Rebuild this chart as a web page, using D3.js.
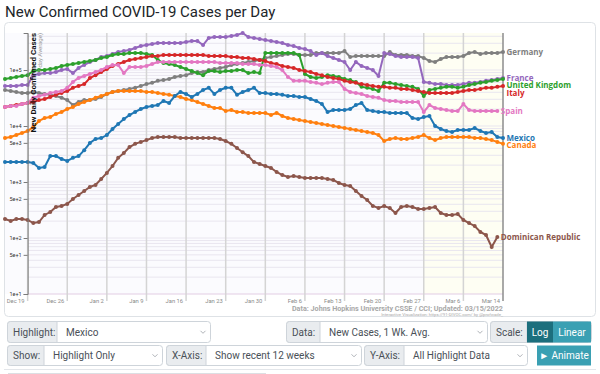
<!DOCTYPE html>
<html>
<head>
<meta charset="utf-8">
<script src="https://cdn.jsdelivr.net/npm/d3@7"></script>
<style>
body { margin: 0; background: #fff; }
svg text { font-family: Roboto, "Open Sans", sans-serif; }
</style>
</head>
<body>
<svg id="chart" width="600" height="374"></svg>
<script>
// x tick labels, one per week (index of day in the series)
var tickLabels = ["Dec 19", "Dec 26", "Jan 2", "Jan 9", "Jan 16", "Jan 23", "Jan 30", "Feb 6", "Feb 13", "Feb 20", "Feb 27", "Mar 6", "Mar 14"];
var tickDays = [4, 11, 18, 25, 32, 39, 46, 53, 60, 67, 74, 81, 88];
var yTicks = [10, 50, 100, 500, 1000, 5000, 10000, 100000];

var names = ["Germany", "France", "United Kingdom", "Italy", "Spain", "Canada", "Mexico", "Dominican Republic"];
var colors = ["#7f7f7f", "#9467bd", "#2ca02c", "#d62728", "#e377c2", "#ff7f0e", "#1f77b4", "#8c564b"];

// new cases, 7-day average
var germany = [44000,42000,40500,39000,39000,40500,39000,37300,36000,34300,
	32000,29000,23700,26800,29000,29000,30300,33000,37300,40500,
	42000,44000,46000,48000,52000,56000,59000,64000,66000,69000,
	75000,78000,81000,88000,92000,92000,100000,104000,109000,113000,
	123000,128000,133000,139000,145000,151000,164000,171000,178000,185000,
	193000,193000,185000,185000,185000,201000,201000,201000,201000,201000,
	218000,171000,178000,178000,178000,178000,178000,178000,209000,185000,
	185000,185000,178000,178000,164000,145000,139000,157000,171000,171000,
	171000,178000,201000,209000,193000,201000,201000,201000,209000];
var france = [52000,52000,52000,54000,54000,81000,85000,88000,88000,92000,
	100000,104000,88000,109000,123000,139000,151000,171000,178000,193000,
	209000,218000,228000,247000,268000,279000,291000,303000,303000,303000,
	303000,303000,316000,330000,330000,279000,373000,388000,388000,388000,
	405000,422000,458000,388000,373000,358000,343000,330000,316000,303000,
	279000,268000,247000,237000,218000,185000,201000,178000,164000,151000,
	139000,100000,139000,118000,109000,100000,78000,201000,193000,178000,
	171000,171000,171000,164000,61000,59000,56000,56000,54000,54000,
	54000,56000,59000,59000,61000,64000,66000,69000,72000];
var uk = [69000,72000,75000,78000,81000,96000,100000,100000,104000,109000,
	118000,123000,128000,133000,139000,145000,151000,164000,171000,185000,
	193000,193000,201000,201000,201000,193000,185000,151000,133000,128000,
	123000,113000,104000,96000,88000,81000,96000,96000,92000,96000,
	96000,100000,100000,88000,92000,88000,201000,201000,201000,201000,
	201000,201000,185000,85000,75000,72000,75000,81000,78000,75000,
	69000,66000,61000,50000,48000,46000,42000,59000,59000,56000,
	54000,52000,50000,46000,34300,44000,46000,48000,50000,50000,
	48000,50000,54000,56000,59000,61000,64000,66000,69000];
var italy = [21800,22800,23700,24700,25800,26800,29000,30300,33000,36000,
	39000,42000,48000,52000,56000,72000,81000,92000,104000,118000,
	128000,139000,151000,157000,164000,171000,178000,178000,185000,185000,
	185000,185000,185000,185000,185000,185000,178000,178000,178000,178000,
	171000,171000,164000,164000,157000,151000,145000,133000,128000,118000,
	113000,109000,100000,96000,92000,85000,81000,75000,72000,69000,
	64000,61000,59000,56000,54000,52000,50000,50000,48000,48000,
	46000,46000,44000,42000,40500,39000,39000,39000,39000,39000,
	40500,42000,44000,44000,46000,48000,48000,50000,52000];
var spain = [21800,22800,22800,24700,25800,32000,34300,36000,39000,40500,
	42000,48000,61000,72000,78000,85000,92000,100000,113000,123000,
	123000,88000,113000,113000,113000,118000,128000,139000,139000,139000,
	139000,139000,139000,139000,139000,139000,139000,139000,133000,133000,
	133000,133000,128000,128000,128000,123000,123000,118000,113000,100000,
	75000,64000,64000,64000,61000,59000,56000,59000,61000,61000,
	46000,40500,39000,37300,34300,33000,32000,29000,28000,28000,
	26800,26800,26800,26800,17800,23700,21000,20100,19300,18500,
	18500,24700,19300,18500,18500,18500,18500,18500];
var canada = [6100,6370,6900,7500,8140,9600,12300,13900,14500,16400,
	17800,20100,21800,24700,26800,29000,32000,34300,37300,40500,
	42000,42000,42000,42000,42000,40500,40500,39000,37300,36000,
	34300,33000,30300,29000,26800,24700,22800,21000,21000,18500,
	19300,17800,17800,17100,17100,17100,17100,15700,17100,15100,
	13900,13300,12800,12300,11800,11300,10900,10400,10000,9600,
	9200,8850,8500,8140,7800,7500,6900,5390,5860,6100,
	5860,5860,6100,6370,6900,6100,5600,6100,6370,6370,
	6370,6370,6370,6100,6100,5860,5600,5200,4800];
var mexico = [2270,2270,2270,2270,2270,2180,1780,1850,2900,2900,
	2580,2380,2700,2900,3700,4970,5860,6100,6900,8840,
	10900,13300,15700,17800,20100,21800,22800,23700,28000,25800,
	34300,40500,37300,33000,37300,44000,48000,37300,44000,48000,
	48000,36000,40500,44000,48000,39000,39000,37300,37300,36000,
	34300,34300,33000,33000,30300,28000,24700,17800,19300,19300,
	19300,20100,23700,25800,19300,18500,17800,17800,17100,17100,
	17100,17100,13900,13300,14500,15100,10000,8840,8140,7800,
	8500,8500,8500,9200,8140,7500,7800,6370,6100];
var dominican = [218,201,218,218,210,185,193,258,291,358,
	373,405,497,586,690,815,884,1130,1450,1930,
	2700,3300,4200,4800,5200,5600,6100,6370,6370,6370,
	6370,6100,6100,6100,6100,6100,6100,6100,5860,5390,
	4800,4050,3400,2900,2270,2100,1930,1780,1510,1330,
	1230,1280,1230,1180,1180,1180,1180,1130,1090,960,
	884,850,690,562,477,373,343,373,343,279,
	358,373,358,330,330,343,358,279,258,258,
	268,210,185,164,128,113,69,104];

var series = [germany, france, uk, italy, spain, canada, mexico, dominican];

var svg = d3.select("#chart");

var x = d3.scaleLinear().domain([0, 88]).range([5, 503]);
var yMax = d3.max(series, function(s) { return d3.max(s); });
var y = d3.scaleLog().domain([10, yMax]).range([294, 33]);

svg.append("text")
	.attr("x", 5)
	.attr("y", 17)
	.attr("font-size", 15)
	.attr("fill", "#212529")
	.text("New Confirmed COVID-19 Cases per Day");

// card
svg.append("rect")
	.attr("x", 4.5).attr("y", 22.5)
	.attr("width", 591).attr("height", 294)
	.attr("rx", 4)
	.attr("fill", "#fff")
	.attr("stroke", "#dee2e6");

var chart = svg.append("g");

chart.append("rect")
	.attr("x", x(0)).attr("y", y(yMax))
	.attr("width", x(88) - x(0)).attr("height", y(10) - y(yMax))
	.attr("fill", "#fbfbfe");

// recent week shading
chart.append("rect")
	.attr("x", x(74)).attr("y", y(yMax))
	.attr("width", x(88) - x(74)).attr("height", y(10) - y(yMax))
	.attr("fill", "#fefef3");

// horizontal grid
var gridVals = [];
for (var e = 1; e <= 5; e++) {
	for (var m = 1; m <= 9; m++) {
		var v = m * Math.pow(10, e);
		if (v <= yMax) gridVals.push(v);
	}
}
chart.selectAll(".hgrid")
	.data(gridVals)
	.enter()
	.append("line")
	.attr("x1", x(4)).attr("x2", x(88))
	.attr("y1", function(d) { return y(d); })
	.attr("y2", function(d) { return y(d); })
	.attr("stroke", function(d) { return d === 10 ? "#e2cde4" : "#e9e6ef"; })
	.attr("stroke-width", 1);

// vertical grid
chart.selectAll(".vgrid")
	.data(tickDays)
	.enter()
	.append("line")
	.attr("x1", function(d) { return x(d); })
	.attr("x2", function(d) { return x(d); })
	.attr("y1", y(yMax))
	.attr("y2", 301)
	.attr("stroke", function(d, i) { return i === tickDays.length - 1 ? "#8c8c8c" : "#d4d4d4"; })
	.attr("stroke-width", 1.5);

chart.selectAll(".xlabel")
	.data(tickDays)
	.enter()
	.append("text")
	.attr("x", function(d) { return x(d) - 3; })
	.attr("y", 302.5)
	.attr("text-anchor", "end")
	.attr("font-size", 5.8)
	.attr("fill", "#8a8a8a")
	.text(function(d, i) { return tickLabels[i]; });

// y axis
var yAxis = d3.axisLeft(y)
	.tickValues(yTicks)
	.tickFormat(d3.format(".0e"))
	.tickSize(4)
	.tickPadding(2);
var gy = svg.append("g")
	.attr("transform", "translate(" + x(4) + ",0)")
	.call(yAxis);
gy.select(".domain").attr("stroke", "#7a7a7a");
gy.selectAll(".tick line").attr("stroke", "#7a7a7a");
gy.selectAll("text")
	.attr("font-size", 5.5)
	.attr("fill", "#333")
	.style("font-family", "Roboto, sans-serif");

// y title
svg.append("text")
	.attr("transform", "translate(36,33) rotate(-90)")
	.attr("text-anchor", "end")
	.attr("font-size", 8)
	.attr("font-weight", "bold")
	.attr("fill", "#111")
	.text("New Daily Confirmed Cases");
svg.append("text")
	.attr("transform", "translate(42,33) rotate(-90)")
	.attr("text-anchor", "end")
	.attr("font-size", 6)
	.attr("fill", "#9a9a9a")
	.text("(7-day Average)");

// lines + dots
var line = d3.line()
	.x(function(d, i) { return x(i); })
	.y(function(d) { return y(d); });

series.forEach(function(s, k) {
	chart.append("path")
		.datum(s)
		.attr("d", line)
		.attr("fill", "none")
		.attr("stroke", colors[k])
		.attr("stroke-width", 2);
	chart.selectAll(".dot" + k)
		.data(s)
		.enter()
		.append("circle")
		.attr("cx", function(d, i) { return x(i); })
		.attr("cy", function(d) { return y(d); })
		.attr("r", 2)
		.attr("fill", colors[k]);
});

// end labels, pushed apart
var labels = series.map(function(s, k) {
	return { name: names[k], color: colors[k], lx: x(s.length - 1) + 3.5, ly: y(s[s.length - 1]) };
});
labels.sort(function(a, b) { return a.ly - b.ly; });
for (var i = 1; i < labels.length; i++) {
	if (labels[i].ly < labels[i - 1].ly + 7.5) labels[i].ly = labels[i - 1].ly + 7.5;
}
chart.selectAll(".endlabel")
	.data(labels)
	.enter()
	.append("text")
	.attr("x", function(d) { return d.lx; })
	.attr("y", function(d) { return d.ly; })
	.attr("dy", "0.35em")
	.attr("font-size", 8)
	.attr("font-weight", "bold")
	.style("font-family", "'Open Sans', sans-serif")
	.attr("fill", function(d) { return d.color; })
	.text(function(d) { return d.name; });

// source
svg.append("text")
	.attr("x", 503).attr("y", 310.5)
	.attr("text-anchor", "end")
	.attr("font-size", 7.2)
	.attr("font-weight", "bold")
	.attr("fill", "#a8a8a8")
	.text("Data: Johns Hopkins University CSSE / CCI; Updated: 03/15/2022");
svg.append("text")
	.attr("x", 503).attr("y", 315.5)
	.attr("text-anchor", "end")
	.attr("font-size", 4.3)
	.attr("fill", "#a8a8a8")
	.text("Interactive Visualization: https://91-DIVOC.com/ by @profwade_");

// controls
var controls = svg.append("g").attr("font-size", 10);

function group(x0, top, h, label, lw, value, x1) {
	controls.append("rect")
		.attr("x", x0 + 0.5).attr("y", top + 0.5)
		.attr("width", x1 - x0 - 1).attr("height", h)
		.attr("rx", 3)
		.attr("fill", "#fff")
		.attr("stroke", "#ced4da");
	controls.append("path")
		.attr("d", "M" + (x0 + 3.5) + "," + (top + 0.5) + "H" + (x0 + lw) + "V" + (top + h + 0.5) + "H" + (x0 + 3.5)
			+ "A3,3 0 0 1 " + (x0 + 0.5) + "," + (top + h - 2.5) + "V" + (top + 3.5) + "A3,3 0 0 1 " + (x0 + 3.5) + "," + (top + 0.5) + "Z")
		.attr("fill", "#e9ecef")
		.attr("stroke", "#ced4da");
	controls.append("text")
		.attr("x", x0 + 6).attr("y", top + h / 2 + 4)
		.attr("fill", "#495057")
		.text(label);
	if (value !== null) {
		controls.append("text")
			.attr("x", x0 + lw + 9).attr("y", top + h / 2 + 4)
			.attr("fill", "#495057")
			.text(value);
		var cx = x1 - 8, cy = top + h / 2 + 0.5;
		controls.append("path")
			.attr("d", "M" + (cx - 2.5) + "," + (cy - 1.2) + "L" + cx + "," + (cy + 1.3) + "L" + (cx + 2.5) + "," + (cy - 1.2))
			.attr("fill", "none")
			.attr("stroke", "#9aa0a6")
			.attr("stroke-width", 0.8);
	}
}

function button(x0, top, w, h, fill, label) {
	controls.append("rect")
		.attr("x", x0).attr("y", top + 0.5)
		.attr("width", w).attr("height", h)
		.attr("fill", fill);
	controls.append("text")
		.attr("x", x0 + w / 2).attr("y", top + h / 2 + 4)
		.attr("text-anchor", "middle")
		.attr("fill", "#fff")
		.text(label);
}

group(7, 321, 21, "Highlight:", 50, "Mexico", 211);
group(286, 321, 21, "Data:", 34, "New Cases, 1 Wk. Avg.", 488);
group(490, 321, 21, "Scale:", 37, null, 592);
button(527, 321, 26, 21, "#1c6f7d", "Log");
button(553, 321, 38, 21, "#3aa0b3", "Linear");
group(7, 345, 20, "Show:", 37, "Highlight Only", 163);
group(166, 345, 20, "X-Axis:", 40, "Show recent 12 weeks", 362);
group(364, 345, 20, "Y-Axis:", 40, "All Highlight Data", 528);
button(537, 345, 54, 20, "#3aa0b3", "\u25BA Animate");

svg.append("line")
	.attr("x1", 4).attr("x2", 596)
	.attr("y1", 369.5).attr("y2", 369.5)
	.attr("stroke", "#e3e6ea");
svg.append("rect")
	.attr("x", 8.5).attr("y", 373.5)
	.attr("width", 257).attr("height", 10)
	.attr("fill", "none")
	.attr("stroke", "#dcdfe3");
</script>
</body>
</html>
